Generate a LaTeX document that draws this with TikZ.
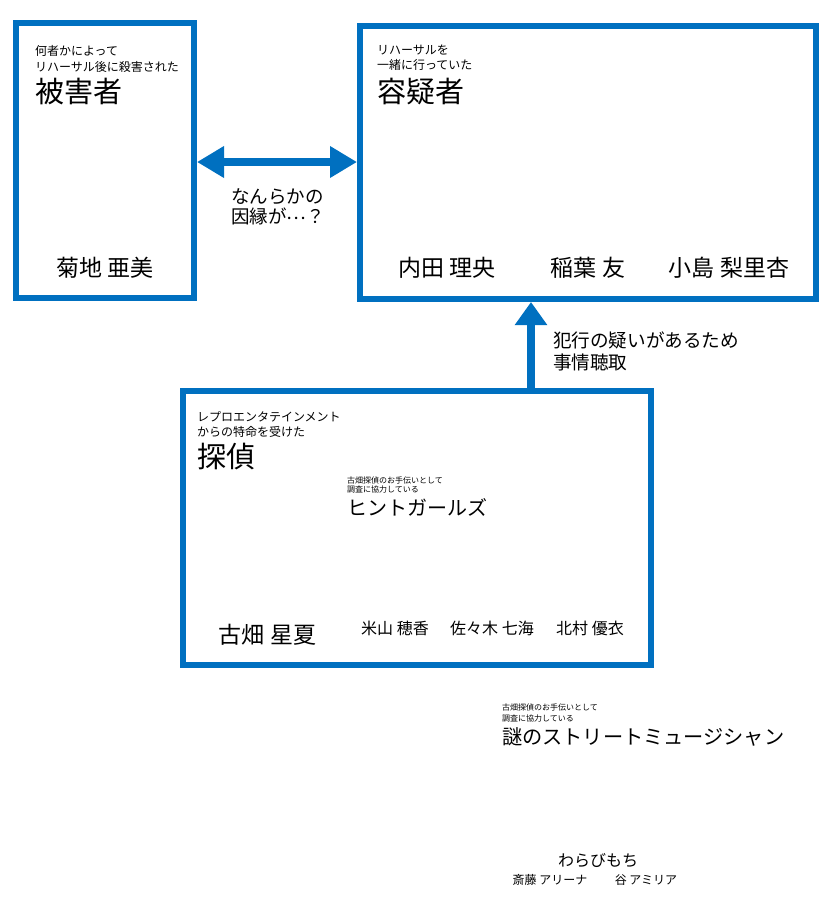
\documentclass[tikz,border=0pt]{standalone}
\usepackage{fontspec}
\setmainfont{Noto Sans CJK JP}
\usetikzlibrary{arrows.meta}
\definecolor{mblue}{HTML}{0070C0}
\begin{document}
\begin{tikzpicture}[x=1pt,y=-1pt,
  box/.style={draw=mblue,line width=6pt,fill=none,inner sep=0pt},
  txt/.style={inner sep=0pt,outer sep=0pt,text=black,align=left},
  ctxt/.style={inner sep=0pt,outer sep=0pt,text=black,align=center},
  conn/.style={draw=mblue,line width=8pt}
]
\useasboundingbox (0,0) rectangle (833,914);
% boxes
\node[box,minimum width=178pt,minimum height=274.5pt] (victim) at (105,160.25) {};
\node[box,minimum width=456pt,minimum height=273pt] (suspects) at (588,162.5) {};
\node[box,minimum width=468pt,minimum height=274pt] (detective) at (417,528) {};
% connectors
\coordinate (dy) at (0,162);
\coordinate (vx) at (531,0);
\draw[conn,{Triangle[length=27pt,width=30pt]}-{Triangle[length=27pt,width=30pt]}] (victim.east |- dy) -- (suspects.west |- dy);
\draw[conn,-{Triangle[length=23pt,width=31pt]}] (vx |- detective.north) -- (vx |- suspects.south);
% victim box
\node[txt,anchor=west,font=\fontsize{12}{16}\selectfont] (v1) at (35,59) {何者かによって\\リハーサル後に殺害された};
\node[txt,anchor=west,font=\fontsize{29}{34}\selectfont] (v2) at (35,92) {被害者};
\node[ctxt,font=\fontsize{23}{27}\selectfont] (v3) at (105,268) {菊地 亜美};
% suspects box
\node[txt,anchor=west,font=\fontsize{12}{15}\selectfont] (s1) at (377,57.5) {リハーサルを\\一緒に行っていた};
\node[txt,anchor=west,font=\fontsize{29}{34}\selectfont] (s2) at (377,92) {容疑者};
\node[ctxt,font=\fontsize{23}{27}\selectfont] (s3) at (447,268) {内田 理央};
\node[ctxt,font=\fontsize{23}{27}\selectfont] (s4) at (588,268) {稲葉 友};
\node[ctxt,font=\fontsize{23}{27}\selectfont] (s5) at (729,268) {小島 梨里杏};
% connector labels
\node[txt,anchor=west,font=\fontsize{18.5}{20.5}\selectfont] (l1) at (231,207) {なんらかの\\因縁が\smash{\raisebox{4pt}{…}}？};
\node[txt,anchor=west,font=\fontsize{18.6}{22}\selectfont] (l2) at (553,351) {犯行の疑いがあるため\\事情聴取};
% detective box
\node[txt,anchor=west,font=\fontsize{12}{15.5}\selectfont] (d1) at (197,424.5) {レプロエンタテインメント\\からの特命を受けた};
\node[txt,anchor=west,font=\fontsize{29}{34}\selectfont] (d2) at (197,457) {探偵};
\node[txt,anchor=west,font=\fontsize{8}{9}\selectfont] (h1) at (347,484.5) {古畑探偵のお手伝いとして\\調査に協力している};
\node[txt,anchor=west,font=\fontsize{20}{24}\selectfont] (h2) at (347,507) {ヒントガールズ};
\node[ctxt,font=\fontsize{23}{27}\selectfont] (d3) at (267.5,635) {古畑 星夏};
\node[ctxt,font=\fontsize{16}{19}\selectfont] (h3) at (395,628) {米山 穂香};
\node[ctxt,font=\fontsize{16}{19}\selectfont] (h4) at (492,628) {佐々木 七海};
\node[ctxt,font=\fontsize{16}{19}\selectfont] (h5) at (590,628) {北村 優衣};
% street musician
\node[txt,anchor=west,font=\fontsize{8}{11}\selectfont] (m1) at (502,713) {古畑探偵のお手伝いとして\\調査に協力している};
\node[txt,anchor=west,font=\fontsize{20.2}{24}\selectfont] (m2) at (502,737) {謎のストリートミュージシャン};
\node[ctxt,font=\fontsize{16}{19}\selectfont] (w1) at (598,860) {わらびもち};
\node[ctxt,font=\fontsize{12}{15}\selectfont] (w2) at (550,880) {斎藤 アリーナ};
\node[ctxt,font=\fontsize{12}{15}\selectfont] (w3) at (646,880) {谷 アミリア};
\end{tikzpicture}
\end{document}
